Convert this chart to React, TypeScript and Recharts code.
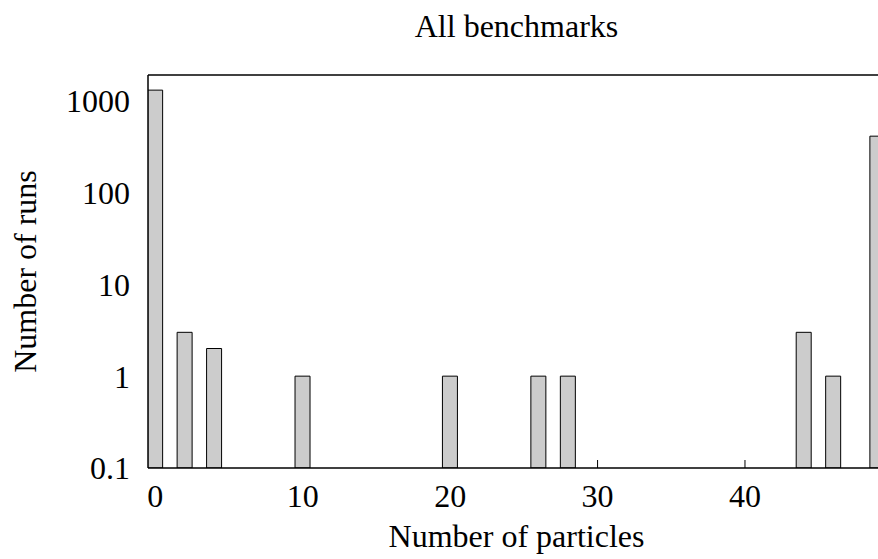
import { BarChart, Bar, XAxis, YAxis, Label, ReferenceLine } from 'recharts';

// histogram of runs per particle count (log scale)
const particles = [0, 2, 4, 10, 20, 26, 28, 44, 46, 49];
const runs = [1300, 3, 2, 1, 1, 1, 1, 3, 1, 410];

const xTicks = [0, 10, 20, 30, 40];
const yTicks = [0.1, 1, 10, 100, 1000];
const yMax = 1900;

const data = particles.map((p, i) => ({ particles: p, runs: runs[i] }));

const FONT = '"Liberation Serif", "Times New Roman", serif';
const FONT_SIZE = 32;

// gnuplot-style tick: short mark pointing into the plot, label below.
// the mark sits behind the boxes, so skip it where a box covers it
const XTick = (props: any) => {
  const { x, y, payload } = props;
  const hidden = particles.includes(payload.value);
  return (
    <g>
      {!hidden && <line x1={x} x2={x} y1={y} y2={y - 8} stroke="#000" strokeWidth={1} />}
      <text x={x} y={y + 39} textAnchor="middle" fontFamily={FONT} fontSize={FONT_SIZE} fill="#000">
        {payload.value}
      </text>
    </g>
  );
};

const App = () => {
  return (
    <div
      style={{
        position: 'fixed',
        left: 0,
        top: 0,
        width: 878,
        height: 559,
        overflow: 'hidden',
        background: '#fff',
      }}
    >
      <div
        style={{
          position: 'absolute',
          left: 148,
          width: 737,
          top: 10,
          lineHeight: `${FONT_SIZE}px`,
          textAlign: 'center',
          fontFamily: FONT,
          fontSize: FONT_SIZE,
          color: '#000',
        }}
      >
        All benchmarks
      </div>
      <BarChart
        width={900}
        height={559}
        data={data}
        margin={{ top: 75, right: 15, left: 0, bottom: 0 }}
      >
        <XAxis
          dataKey="particles"
          type="number"
          domain={[-0.5, 49.5]}
          ticks={xTicks}
          allowDataOverflow
          height={91}
          tickSize={0}
          tickMargin={0}
          tickLine={false}
          tick={<XTick />}
          axisLine={{ stroke: '#000', strokeWidth: 1.5 }}
        >
          <Label
            value="Number of particles"
            position="insideBottom"
            offset={12}
            style={{ fontFamily: FONT, fontSize: FONT_SIZE, fill: '#000' }}
          />
        </XAxis>
        <YAxis
          scale="log"
          domain={[0.1, yMax]}
          ticks={yTicks}
          allowDataOverflow
          width={148}
          tickLine={false}
          tickSize={0}
          tickMargin={18}
          tick={{ fontFamily: FONT, fontSize: FONT_SIZE, fill: '#000' }}
          axisLine={{ stroke: '#000', strokeWidth: 1.5 }}
        >
          <Label
            value="Number of runs"
            angle={-90}
            position="center"
            dx={-49}
            style={{ fontFamily: FONT, fontSize: FONT_SIZE, fill: '#000', textAnchor: 'middle' }}
          />
        </YAxis>
        {/* top border of the frame */}
        <ReferenceLine y={yMax} stroke="#000" strokeWidth={1.5} ifOverflow="visible" />
        <Bar
          dataKey="runs"
          barSize={15}
          fill="#cccccc"
          stroke="#000"
          strokeWidth={1}
          isAnimationActive={false}
        />
      </BarChart>
    </div>
  );
};

export default App;
